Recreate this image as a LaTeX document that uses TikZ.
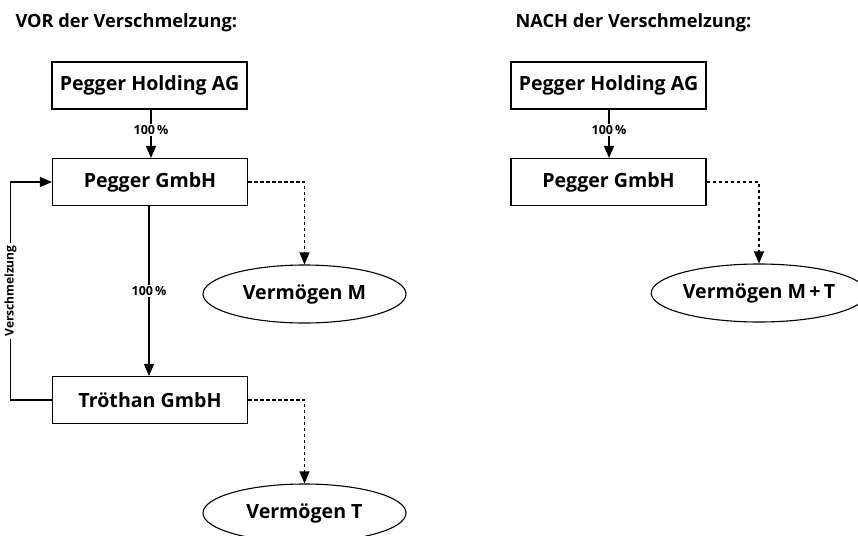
\documentclass[tikz,border=0pt]{standalone}
\usepackage{fontspec}
\setmainfont{Open Sans}
\usetikzlibrary{arrows.meta,shapes.geometric}
\tikzset{
  box/.style={draw, line width=1.1pt, minimum width=195pt, minimum height=47pt, inner sep=0pt, font=\fontsize{19.6}{22}\selectfont\bfseries},
  ell/.style={draw, line width=1.1pt, ellipse, minimum width=203pt, minimum height=58pt, inner sep=0pt, font=\fontsize{19.6}{22}\selectfont\bfseries},
  title/.style={anchor=base west, font=\fontsize{18.2}{20}\selectfont\bfseries},
  pct/.style={fill=white, inner sep=1.5pt, font=\fontsize{12.5}{14}\selectfont\bfseries},
  vlab/.style={fill=white, inner sep=2pt, font=\fontsize{12}{14}\selectfont\bfseries},
  conn/.style={line width=1.1pt},
  dconn/.style={line width=1.1pt, dash pattern=on 3.5pt off 2.5pt},
  tip/.style={-{Triangle[length=12pt,width=10pt]}}
}
\begin{document}
\begin{tikzpicture}[x=1pt,y=-1pt]
\useasboundingbox (0,0) rectangle (858,535);
% titles
\node[title] (t1) at (12,27.5) {VOR der Verschmelzung:};
\node[title] (t2) at (512,27.5) {NACH der Verschmelzung:};
% left
\node[box] (h1) at (149.5,85.5) {Pegger Holding AG};
\node[box] (p1) at (150,182) {Pegger GmbH};
\node[box] (tr) at (150,400) {Tr\"othan GmbH};
\node[ell] (vm) at (304.5,294) {Verm\"ogen M};
\node[ell] (vt) at (304.5,513) {Verm\"ogen T};
\draw[conn,tip] (h1.south -| 151,0) -- node[pct,pos=0.42] (l1) {100\,\%} (p1.north -| 151,0);
\draw[conn,tip] (p1.south -| 149,0) -- node[pct,pos=0.5] (l2) {100\,\%} (tr.north -| 149,0);
\coordinate (c1) at (10.5,400);
\coordinate (c2) at (10.5,182);
\draw[conn,tip] (tr.west) -- (c1) -- node[vlab,rotate=90,pos=0.5] (l3) {Verschmelzung} (c2) -- (p1.west);
\draw[dconn,tip] (p1.east) -| (vm.north);
\draw[dconn,tip] (tr.east) -| (vt.north);
% right
\node[box] (h2) at (608.5,85.5) {Pegger Holding AG};
\node[box] (p2) at (608.5,182) {Pegger GmbH};
\node[ell] (vmt) at (759,293) {Verm\"ogen M\,+\,T};
\draw[conn,tip] (h2.south -| 609,0) -- node[pct,pos=0.42] (l4) {100\,\%} (p2.north -| 609,0);
\draw[dconn,tip] (p2.east) -| (vmt.north);
\end{tikzpicture}
\end{document}
